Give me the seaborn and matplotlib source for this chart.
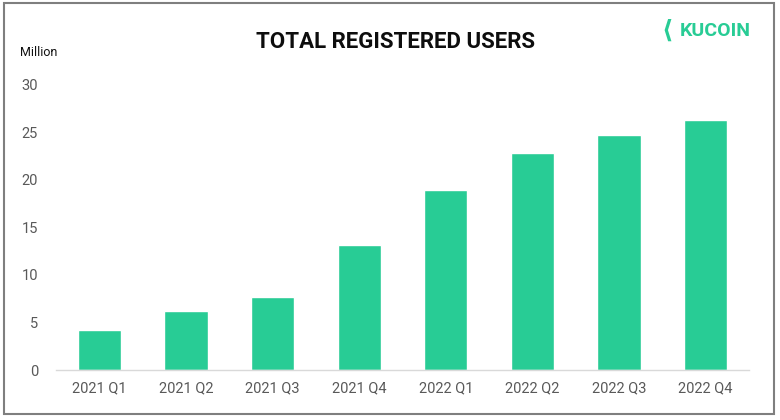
import matplotlib
matplotlib.use('Agg')
import matplotlib.pyplot as plt
import matplotlib.patches as mpatches
import pandas as pd
import seaborn as sns

quarters = ['2021 Q1', '2021 Q2', '2021 Q3', '2021 Q4',
            '2022 Q1', '2022 Q2', '2022 Q3', '2022 Q4']
users_m = [4.2, 6.2, 7.7, 13.1, 18.9, 22.8, 24.7, 26.3]
y_ticks = [0, 5, 10, 15, 20, 25, 30]

sns.set_style('white')
plt.rcParams['font.family'] = ['Roboto', 'DejaVu Sans']

df = pd.DataFrame({'quarter': quarters, 'users': users_m})

fig = plt.figure(figsize=(7.8, 4.2), dpi=100)
ax = fig.add_axes([0.072, 0.119, 0.888, 0.679])
sns.barplot(data=df, x='quarter', y='users', color='#28CC95', width=0.5,
            saturation=1, ax=ax)

ax.set_ylim(0, 30)
ax.set_yticks(y_ticks)
ax.set_xlabel('')
ax.set_ylabel('')
for s in ['top', 'right', 'left']:
    ax.spines[s].set_visible(False)
ax.spines['bottom'].set_color('#d9d9d9')
ax.spines['bottom'].set_linewidth(1)
ax.tick_params(axis='both', length=0, labelsize=10.5, colors='#595959')
ax.tick_params(axis='y', pad=13)
ax.tick_params(axis='x', pad=8)

fig.text(0.507, 0.90, 'TOTAL REGISTERED USERS', ha='center', va='center',
         fontsize=16, fontweight='bold', color='#0d0d0d')
fig.text(0.026, 0.875, 'Million', ha='left', va='center', fontsize=9, color='#111111')
fig.text(0.872, 0.927, 'KUCOIN', ha='left', va='center', fontsize=14,
         fontweight='bold', color='#28CC95')
# logo mark
fig.text(0.855, 0.927, '\u27e8', ha='center', va='center', fontsize=18,
         fontweight='bold', color='#28CC95', family='DejaVu Sans')

# outer frame
fig.patches.append(mpatches.Rectangle((0.005, 0.014), 0.987, 0.978,
                                      transform=fig.transFigure, fill=False,
                                      edgecolor='#7f7f7f', linewidth=1.5))

fig.savefig('out.png', dpi=100)
